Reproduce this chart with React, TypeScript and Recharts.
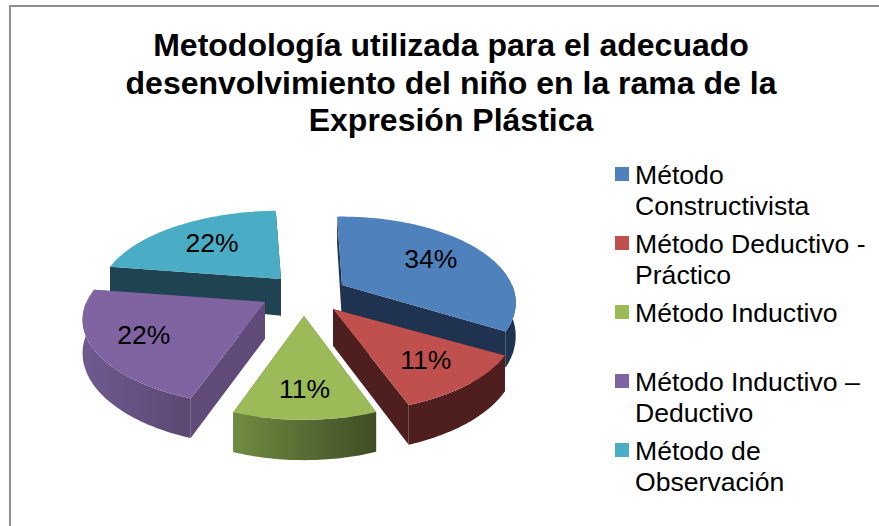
import { Pie, PieChart } from 'recharts'

const categories = [
  'Método Constructivista',
  'Método Deductivo - Práctico',
  'Método Inductivo',
  'Método Inductivo – Deductivo',
  'Método de Observación',
]
const values = [34, 11, 11, 22, 22]
const titleLines = [
  'Metodología utilizada para el adecuado',
  'desenvolvimiento del niño en la rama de la',
  'Expresión Plástica',
]

const topColors = ['#4f81bd', '#c0504d', '#9bbb59', '#8064a2', '#4bacc6']
const wallColors = ['#1f3350', '#4e1f1e', '#5a7034', '#5f4a78', '#1f4350']
const wallLight = ['#1f3350', '#4e1f1e', '#708c42', '#6e5a90', '#1f4350']
const wallDark = ['#1f3350', '#4e1f1e', '#3f4d25', '#5c4872', '#1f4350']

// explosion of each slice from the pie centre, in px
const explodeX = [42, 33, 4, -35, -19]
const explodeY = [-15, 9, 16, 2, -21]
const stretchX = [1, 1.05, 1, 1.05, 1.05]
const labelFractions = [0.65, 0.72, 0.75, 0.73, 0.64]
const drawOrder = [4, 0, 3, 1, 2]

const VERTICAL_SQUASH = 0.485
const PERSPECTIVE = 825
const DEPTH = 32

const chartData = categories.map((name, i) => ({ name, value: values[i], idx: i }))

function Slice(props: any) {
  const { cx, cy, outerRadius, startAngle, endAngle, percent, payload } = props
  const i = payload.idx
  const ax = cx + explodeX[i]
  const ay = cy + explodeY[i]

  // angles clockwise from 12 o'clock, ground plane -> screen
  const project = (clock: number, f: number, drop = 0) => {
    const rad = (clock * Math.PI) / 180
    const X = outerRadius * f * Math.sin(rad) * stretchX[i]
    const Y = outerRadius * f * Math.cos(rad)
    const s = 1 / (1 + Y / PERSPECTIVE)
    return [ax + X * s, ay - Y * VERTICAL_SQUASH * s + drop * DEPTH * s]
  }
  const from = 90 - startAngle
  const to = 90 - endAngle
  const arc = (a: number, b: number, drop: number) => {
    const pts = []
    const n = Math.max(1, Math.ceil(Math.abs(b - a)))
    for (let k = 0; k <= n; k++) pts.push(project(a + ((b - a) * k) / n, 1, drop))
    return pts
  }
  const toPath = (pts: number[][]) => 'M' + pts.map((p) => p[0].toFixed(1) + ',' + p[1].toFixed(1)).join('L') + 'Z'

  const apexTop = project(0, 0)
  const apexBottom = project(0, 0, 1.15)
  const wallFrom = Math.max(from, 90)
  const wallTo = Math.min(to, 270)
  const gradientId = 'wall-' + i
  const label = project((from + to) / 2, labelFractions[i])

  return (
    <g>
      <defs>
        <linearGradient id={gradientId} x1="0" y1="0" x2="1" y2="0">
          <stop offset="0" stopColor={wallLight[i]} />
          <stop offset="1" stopColor={wallDark[i]} />
        </linearGradient>
      </defs>
      <path d={toPath([apexTop, project(to, 1), project(to, 1, 1), apexBottom])} fill={wallColors[i]} />
      <path d={toPath([apexTop, project(from, 1), project(from, 1, 1), apexBottom])} fill={wallColors[i]} />
      {wallTo > wallFrom && (
        <path
          d={toPath([...arc(wallFrom, wallTo, 0), ...arc(wallTo, wallFrom, 1)])}
          fill={`url(#${gradientId})`}
        />
      )}
      <path d={toPath([apexTop, ...arc(from, to, 0)])} fill={topColors[i]} />
      <text
        x={label[0]}
        y={label[1]}
        textAnchor="middle"
        dominantBaseline="central"
        fontFamily="'Liberation Sans', Arial, sans-serif"
        fontSize={26.5}
        fill="#000"
      >
        {Math.round(percent * 100)}%
      </text>
    </g>
  )
}

export default function App() {
  return (
    <div
      style={{
        position: 'absolute',
        left: 0,
        top: 0,
        width: 879,
        height: 526,
        overflow: 'hidden',
        background: '#fff',
        fontFamily: "'Liberation Sans', Arial, sans-serif",
      }}
    >
      <div
        style={{
          position: 'absolute',
          left: 9,
          top: 5,
          width: 900,
          height: 600,
          border: '2px solid #8e8e8e',
        }}
      />
      <div
        style={{
          position: 'absolute',
          left: 51,
          top: 27,
          width: 800,
          textAlign: 'center',
          fontWeight: 'bold',
          fontSize: 32,
          lineHeight: '37.5px',
          color: '#000',
        }}
      >
        {titleLines.map((line) => (
          <div key={line}>{line}</div>
        ))}
      </div>
      <div style={{ position: 'absolute', left: 0, top: 0 }}>
        <PieChart width={600} height={526} margin={{ top: 0, right: 0, bottom: 0, left: 0 }}>
          {drawOrder.map((i) => (
            <Pie
              key={i}
              data={chartData}
              dataKey="value"
              nameKey="name"
              cx={300}
              cy={300}
              outerRadius={170}
              startAngle={92}
              endAngle={-268}
              stroke="none"
              isAnimationActive={false}
              shape={(p: any) => (p.payload.idx === i ? <Slice {...p} /> : <g />)}
            />
          ))}
        </PieChart>
      </div>
      {categories.map((name, i) => (
        <div key={name}>
          <div
            style={{
              position: 'absolute',
              left: 615,
              top: 167 + i * 69,
              width: 14,
              height: 14,
              background: topColors[i],
            }}
          />
          <div
            style={{
              position: 'absolute',
              left: 635,
              top: 160 + i * 69,
              width: 240,
              fontSize: 26.6,
              lineHeight: '30.5px',
              color: '#000',
            }}
          >
            {name}
          </div>
        </div>
      ))}
    </div>
  )
}
